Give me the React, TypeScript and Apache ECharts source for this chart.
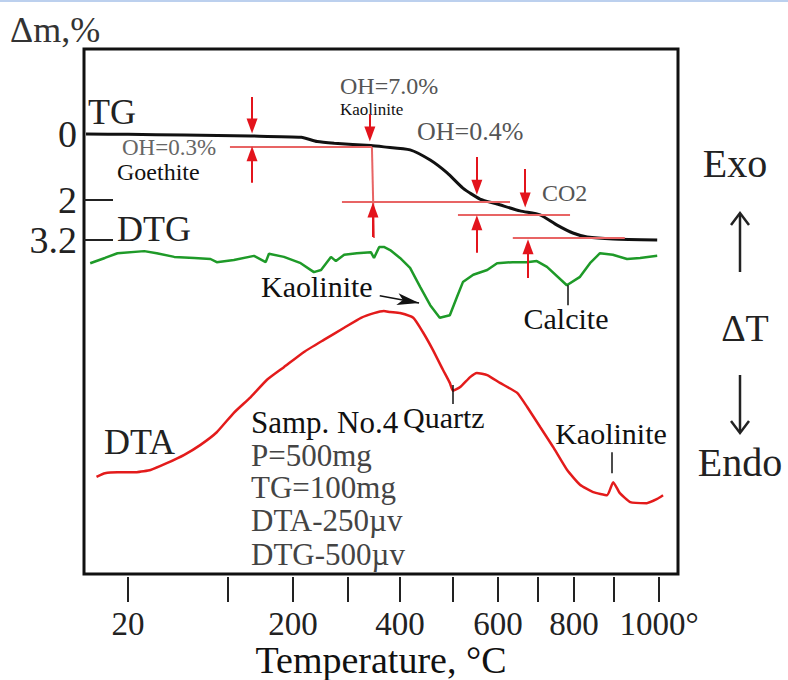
import React, { useEffect, useRef } from "react";
import * as echarts from "echarts";

const FONT = "'Liberation Serif', 'Times New Roman', serif";

// printed temperature axis (non-linear scale)
const tickTemps = [20, 100, 200, 300, 400, 500, 600, 700, 800, 900, 1000];
const tickLabels = ["20", "", "200", "", "400", "", "600", "", "800", "", "1000°"];
const tickPos = [0, 100, 165, 220, 272, 325, 370, 410, 446, 486, 531];

// TG: mass loss, %
const tgTemps = [0, 20, 65, 135, 215, 244, 275, 344, 369, 419, 457, 489, 522, 560, 598, 655, 706, 753, 797, 833, 898, 996];
const tgLoss = [0, 0.01, 0.03, 0.06, 0.1, 0.23, 0.28, 0.35, 0.39, 0.48, 0.79, 1.18, 1.64, 1.97, 2.12, 2.33, 2.45, 2.76, 3.0, 3.12, 3.18, 3.21];

// DTG: relative signal
const dtgTemps = [2, 9, 15, 33, 43, 57, 73, 86, 91, 109, 140, 158, 163, 186, 214, 238, 251, 269, 278, 293, 317, 344, 350, 360, 369, 381, 400, 419, 438, 457, 475, 494, 509, 522, 545, 576, 598, 637, 672, 697, 725, 780, 815, 840, 865, 897, 929, 958, 996];
const dtgSignal = [59.2, 60.2, 61.1, 61.5, 61.1, 60.4, 60.2, 60.0, 59.4, 59.8, 60.6, 59.4, 61.0, 60.4, 59.2, 57.5, 57.9, 60.4, 59.6, 60.8, 61.1, 61.3, 60.2, 62.3, 62.3, 61.7, 60.2, 58.3, 54.7, 51.2, 48.8, 49.3, 52.8, 55.6, 57.0, 57.9, 59.2, 59.4, 59.4, 59.6, 58.5, 55.0, 56.6, 59.2, 61.1, 60.8, 60.0, 60.2, 60.6];

// DTA: relative signal
const dtaTemps = [5, 9, 15, 27, 38, 51, 65, 78, 91, 109, 135, 160, 186, 220, 256, 293, 325, 350, 369, 381, 400, 425, 443, 462, 481, 494, 500, 516, 538, 553, 576, 605, 648, 673, 706, 742, 781, 815, 848, 883, 898, 913, 936, 973, 996, 1009];
const dtaSignal = [18.5, 19.2, 19.4, 19.4, 19.8, 21.1, 22.7, 24.6, 27.0, 30.7, 33.7, 37.0, 39.4, 42.3, 44.6, 46.9, 48.8, 49.7, 50.1, 49.9, 49.7, 48.8, 46.1, 42.7, 38.9, 36.4, 34.9, 35.6, 37.5, 38.3, 37.9, 36.4, 34.5, 31.8, 28.0, 24.2, 19.8, 17.0, 15.6, 15.0, 17.5, 15.4, 13.7, 13.5, 14.3, 15.0];

// calibration of the printed scale (0 °C is where the traces begin)
const scaleTemps = [0, ...tickTemps];
const scalePos = [-42, ...tickPos];

function pos(t: number): number {
  const n = scaleTemps.length;
  let i = 0;
  if (t <= scaleTemps[0]) i = 0;
  else if (t >= scaleTemps[n - 1]) i = n - 2;
  else {
    while (i < n - 2 && t > scaleTemps[i + 1]) i++;
  }
  const t0 = scaleTemps[i], t1 = scaleTemps[i + 1];
  const p0 = scalePos[i], p1 = scalePos[i + 1];
  return p0 + ((t - t0) / (t1 - t0)) * (p1 - p0);
}

const RED = "#e3141c";
const PINK = "#e86464";

function seg(t1: number, v1: number, t2: number, v2: number, color: string, width: number, arrow: boolean, size?: number[]) {
  return [
    { coord: [pos(t1), v1], symbol: "none", lineStyle: { color, width, type: "solid" } },
    { coord: [pos(t2), v2], symbol: arrow ? "triangle" : "none", symbolSize: size || [11, 15], lineStyle: { color, width, type: "solid" } },
  ];
}

export default function App() {
  const ref = useRef<HTMLDivElement>(null);
  useEffect(() => {
    if (!ref.current) return;
    const chart = echarts.init(ref.current, null, { renderer: "svg" });

    const labelPos = tickPos.filter((_, i) => tickLabels[i] !== "");

    const txt = (text: string, x: number, y: number, size: number, color = "#111", align = "left") => ({
      type: "text",
      x,
      y,
      silent: true,
      style: {
        text,
        fontSize: size,
        fontFamily: FONT,
        fill: color,
        align,
        verticalAlign: "middle",
        textAlign: align,
        textVerticalAlign: "middle",
      },
    });

    const tgMarks = [
      seg(103, 0.39, 346, 0.39, PINK, 2, false),
      seg(346, 0.39, 350, 3.15, PINK, 2, false),
      seg(289, 2.05, 630, 2.05, PINK, 2, false),
      seg(511, 2.45, 789, 2.45, PINK, 2, false),
      seg(637, 3.15, 924, 3.15, PINK, 2, false),
      seg(137, -1.12, 137, -0.24, RED, 2, true),
      seg(137, 1.48, 137, 0.6, RED, 2, true),
      seg(342, -0.6, 342, 0.0, RED, 2, true),
      seg(348, 3.12, 348, 2.3, RED, 2, true),
      seg(553, 0.7, 553, 1.61, RED, 2, true),
      seg(553, 3.6, 553, 2.69, RED, 2, true),
      seg(668, 1.06, 668, 2.0, RED, 2, true),
      seg(675, 4.36, 675, 3.42, RED, 2, true),
    ];

    const dtgMarks = [
      seg(361, 53.0, 436, 51.6, "#111", 1.5, true, [9, 22]),
      seg(783, 55.0, 783, 51.2, "#111", 1.5, false),
    ];
    (dtgMarks[0][1] as any).symbol = "arrow";

    const dtaMarks = [
      seg(500, 36.0, 500, 32.4, "#111", 1.5, false),
      seg(895, 23.2, 895, 19.2, "#111", 1.5, false),
    ];

    const markLineBase = {
      silent: true,
      animation: false,
      label: { show: false },
      emphasis: { disabled: true },
      symbol: ["none", "none"],
    };

    chart.setOption({
      animation: false,
      backgroundColor: "#fff",
      textStyle: { fontFamily: FONT },
      grid: {
        left: 84,
        top: 49,
        width: 594,
        height: 525,
        show: true,
        containLabel: false,
        outerBoundsMode: "none",
        borderColor: "#111",
        borderWidth: 3,
        backgroundColor: "transparent",
      },
      xAxis: {
        type: "value",
        min: -44,
        max: 550,
        offset: 3,
        axisLine: { show: false, onZero: false },
        splitLine: { show: false },
        axisTick: {
          show: true,
          customValues: tickPos,
          length: 25,
          lineStyle: { color: "#222", width: 2 },
        },
        axisLabel: {
          customValues: labelPos,
          formatter: (v: number) => tickLabels[tickPos.indexOf(v)] ?? "",
          fontSize: 33,
          fontFamily: FONT,
          color: "#222",
          margin: 30,
        },
        name: "Temperature, °C",
        nameLocation: "middle",
        nameGap: 64,
        nameMoveOverlap: false,
        nameTextStyle: { fontSize: 38, fontFamily: FONT, color: "#111" },
      },
      yAxis: [
        {
          type: "value",
          inverse: true,
          min: -2.576,
          max: 13.333,
          axisLine: { show: false, onZero: false },
          splitLine: { show: false },
          axisTick: {
            show: true,
            inside: true,
            customValues: [2, 3.2],
            length: 29,
            lineStyle: { color: "#222", width: 2 },
          },
          axisLabel: {
            customValues: [0, 2, 3.2],
            fontSize: 38,
            fontFamily: FONT,
            color: "#222",
            margin: 7,
          },
        },
        { type: "value", min: 0, max: 100, show: false, axisLine: { onZero: false } },
      ],
      series: [
        {
          name: "TG",
          type: "line",
          yAxisIndex: 0,
          data: tgTemps.map((t, i) => [pos(t), tgLoss[i]]),
          showSymbol: false,
          smooth: 0.2,
          lineStyle: { color: "#111", width: 3 },
          z: 3,
          markLine: { ...markLineBase, data: tgMarks },
        },
        {
          name: "DTG",
          type: "line",
          yAxisIndex: 1,
          data: dtgTemps.map((t, i) => [pos(t), dtgSignal[i]]),
          showSymbol: false,
          lineStyle: { color: "#1e9a28", width: 2.5 },
          z: 2,
          markLine: { ...markLineBase, data: dtgMarks },
        },
        {
          name: "DTA",
          type: "line",
          yAxisIndex: 1,
          data: dtaTemps.map((t, i) => [pos(t), dtaSignal[i]]),
          showSymbol: false,
          smooth: 0.15,
          lineStyle: { color: "#e31b1b", width: 2.5 },
          z: 2,
          markLine: { ...markLineBase, data: dtaMarks },
        },
      ],
      graphic: [
        { type: "rect", shape: { x: 0, y: 0, width: 788, height: 2 }, style: { fill: "#bcd0ee" }, silent: true },
        txt("Δm,%", 10, 30, 36, "#333"),
        txt("TG", 88, 112, 36, "#222"),
        txt("DTG", 117, 229, 36, "#222"),
        txt("DTA", 104, 442, 36, "#222"),
        txt("OH=7.0%", 340, 86, 24, "#555"),
        txt("Kaolinite", 340, 109, 17, "#111"),
        txt("OH=0.3%", 122, 147, 23, "#666"),
        txt("Goethite", 117, 172, 24, "#111"),
        txt("OH=0.4%", 417, 131, 26, "#555"),
        txt("CO2", 542, 193, 24, "#555"),
        txt("Kaolinite", 261, 286, 30, "#111"),
        txt("Calcite", 566, 318, 30, "#111", "center"),
        txt("Quartz", 403, 417, 30, "#111"),
        txt("Kaolinite", 611, 433, 30, "#111", "center"),
        txt("Samp. No.4", 251, 422, 31, "#111"),
        txt("P=500mg", 251, 455, 31, "#444"),
        txt("TG=100mg", 251, 487, 31, "#444"),
        txt("DTA-250µv", 251, 520, 31, "#444"),
        txt("DTG-500µv", 251, 554, 31, "#444"),
        txt("Exo", 735, 163, 40, "#222", "center"),
        txt("ΔT", 745, 328, 38, "#222", "center"),
        txt("Endo", 740, 462, 40, "#222", "center"),
        { type: "line", shape: { x1: 740, y1: 214, x2: 740, y2: 272 }, style: { stroke: "#222", lineWidth: 2.5 }, silent: true },
        { type: "polyline", shape: { points: [[731, 225], [740, 213], [749, 225]] }, style: { stroke: "#222", lineWidth: 2.5, fill: "none" }, silent: true },
        { type: "line", shape: { x1: 740, y1: 375, x2: 740, y2: 432 }, style: { stroke: "#222", lineWidth: 2.5 }, silent: true },
        { type: "polyline", shape: { points: [[731, 421], [740, 433], [749, 421]] }, style: { stroke: "#222", lineWidth: 2.5, fill: "none" }, silent: true },
      ],
    });
    return () => chart.dispose();
  }, []);
  return (
    <div
      ref={ref}
      style={{ position: "fixed", left: 0, top: 0, width: 788, height: 680, background: "#fff" }}
    />
  );
}
